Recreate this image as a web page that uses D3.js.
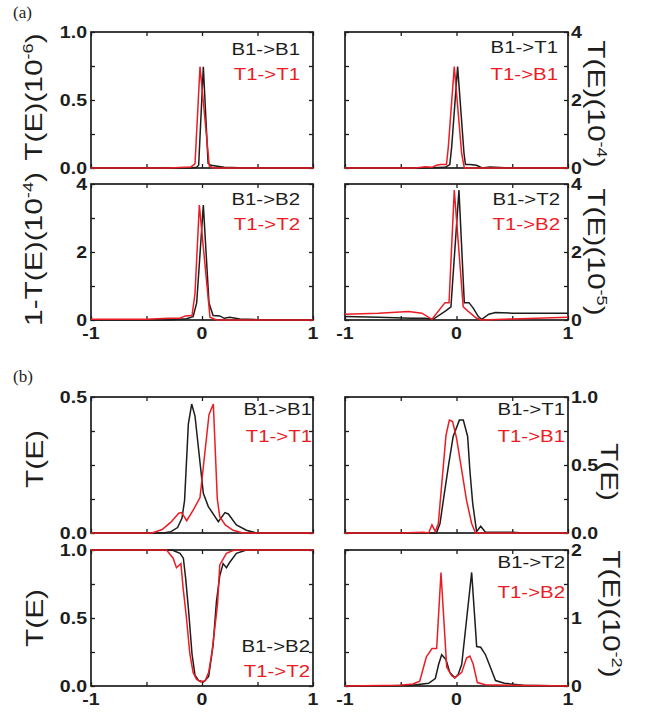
<!DOCTYPE html>
<html>
<head>
<meta charset="utf-8">
<script src="https://cdn.jsdelivr.net/npm/d3@7"></script>
<style>
  body { margin: 0; background: #fff; }
  svg { display: block; }
  text { font-family: "Liberation Sans", Arial, sans-serif; }
</style>
</head>
<body>
<div id="chart"></div>
<script>
// ---- data: [E, T] pairs ----
// (a) top left, T(E) in 1e-6
const a1Black = [[-1,0],[-0.4,0],[-0.1,0],[-0.05,0.005],[-0.03,0.02],[0.012,0.745],[0.055,0.035],[0.08,0.02],[0.2,0.005],[0.4,0],[1,0]];
const a1Red = [[-1,0],[-0.3,0],[-0.1,0.008],[-0.063,0.03],[-0.018,0.745],[0.066,0.015],[0.1,0],[1,0]];
// (a) top right, 1e-4
const a2Black = [[-1,0],[-0.3,0],[-0.1,0.02],[-0.06,0.1],[-0.043,0.63],[0.01,2.98],[0.067,0.44],[0.08,0.1],[0.12,0.1],[0.18,0.08],[0.23,0],[0.3,0.03],[0.5,0],[1,0]];
const a2Red = [[-1,0],[-0.45,0],[-0.37,0],[-0.28,0.04],[-0.22,0.02],[-0.18,0.08],[-0.14,0.1],[-0.09,0.1],[-0.073,0.63],[-0.02,2.98],[0.046,0.44],[0.07,0],[1,0]];
// (a) bottom left, 1-T in 1e-4
const a3Black = [[-1,0],[-0.3,0],[-0.14,0.04],[-0.08,0.1],[-0.048,0.5],[0.012,3.38],[0.063,0.5],[0.1,0.13],[0.16,0.12],[0.2,0.05],[0.25,0.08],[0.34,0.03],[0.5,0.01],[1,0]];
const a3Red = [[-1,0.02],[-0.5,0.02],[-0.3,0.05],[-0.2,0.05],[-0.15,0.12],[-0.09,0.13],[-0.063,0.78],[-0.024,3.38],[0.072,0.08],[0.13,0],[1,0]];
// (a) bottom right, 1e-5
const a4Black = [[-1,0.1],[-0.7,0.08],[-0.4,0.05],[-0.28,0.05],[-0.21,0.02],[-0.097,0.27],[-0.05,0.39],[0.022,3.82],[0.07,0.51],[0.112,0.51],[0.15,0.35],[0.196,0.1],[0.226,0.02],[0.29,0.17],[0.35,0.22],[0.5,0.2],[1,0.2]];
const a4Red = [[-1,0.17],[-0.7,0.2],[-0.43,0.25],[-0.31,0.2],[-0.22,0.02],[-0.103,0.51],[-0.067,0.51],[-0.02,3.82],[0.06,0.39],[0.1,0.27],[0.18,0.05],[0.23,0],[0.5,0.03],[1,0.08]];
// (b) top left
const b1Black = [[-1,0],[-0.35,0],[-0.28,0.005],[-0.22,0.02],[-0.18,0.055],[-0.157,0.12],[-0.123,0.4],[-0.093,0.474],[-0.063,0.43],[0.012,0.146],[0.057,0.097],[0.147,0.042],[0.207,0.075],[0.237,0.07],[0.31,0.03],[0.4,0.01],[0.49,0],[1,0]];
const b1Red = [[-1,0],[-0.45,0],[-0.36,0.013],[-0.28,0.04],[-0.21,0.073],[-0.183,0.075],[-0.138,0.045],[-0.078,0.085],[-0.018,0.13],[0.063,0.435],[0.102,0.474],[0.138,0.125],[0.16,0.06],[0.21,0.03],[0.28,0.01],[0.37,0],[1,0]];
// (b) top right
const b2Black = [[-1,0],[-0.3,0],[-0.18,0],[-0.148,0.07],[-0.118,0.24],[-0.073,0.49],[-0.03,0.71],[0.026,0.83],[0.061,0.83],[0.1,0.71],[0.12,0.46],[0.145,0.22],[0.18,0.01],[0.217,0.05],[0.26,0.005],[0.5,0.005],[0.6,0],[1,0]];
const b2Red = [[-1,0],[-0.5,0],[-0.3,0.005],[-0.25,0],[-0.22,0.06],[-0.19,0.01],[-0.163,0.07],[-0.094,0.72],[-0.064,0.83],[-0.035,0.82],[0,0.7],[0.047,0.46],[0.09,0.24],[0.136,0.07],[0.17,0],[1,0]];
// (b) bottom left
const b3Black = [[-1,1],[-0.27,1],[-0.198,0.976],[-0.168,0.94],[-0.147,0.79],[-0.12,0.546],[-0.09,0.235],[-0.063,0.08],[-0.03,0.04],[0.015,0.03],[0.06,0.07],[0.1,0.3],[0.13,0.62],[0.16,0.81],[0.19,0.9],[0.22,0.87],[0.25,0.91],[0.31,0.975],[0.4,1],[1,1]];
const b3Red = [[-1,1],[-0.32,1],[-0.26,0.94],[-0.23,0.87],[-0.19,0.9],[-0.17,0.72],[-0.14,0.5],[-0.11,0.24],[-0.08,0.1],[-0.05,0.05],[-0.01,0.03],[0.03,0.04],[0.06,0.1],[0.09,0.25],[0.14,0.6],[0.16,0.89],[0.22,0.975],[0.29,1],[1,1]];
// (b) bottom right, 1e-2
const b4Black = [[-1,0],[-0.6,0.005],[-0.4,0.01],[-0.25,0.04],[-0.19,0.11],[-0.16,0.32],[-0.133,0.46],[-0.095,0.39],[-0.06,0.2],[-0.015,0.12],[0.015,0.17],[0.047,0.32],[0.09,0.97],[0.136,1.67],[0.181,0.58],[0.217,0.57],[0.26,0.46],[0.31,0.25],[0.35,0.08],[0.43,0.04],[0.6,0.01],[1,0]];
const b4Red = [[-1,0],[-0.51,0.01],[-0.39,0.03],[-0.33,0.07],[-0.3,0.25],[-0.27,0.43],[-0.22,0.55],[-0.178,0.55],[-0.139,1.67],[-0.088,0.28],[-0.043,0.15],[-0.015,0.12],[0.047,0.2],[0.09,0.41],[0.12,0.44],[0.15,0.32],[0.187,0.05],[0.26,0.02],[0.5,0.01],[1,0]];

// tick labels
const xLabels = [-1, 0, 1];
const yLabelsUnit = [0, 0.5, 1];
const yLabelsHalf = [0, 0.5];
const yLabelsFour = [0, 2, 4];
const yLabelsTwo = [0, 1, 2];

// legends and axis titles
const legendA1 = ["B1->B1", "T1->T1"], legendA2 = ["B1->T1", "T1->B1"];
const legendA3 = ["B1->B2", "T1->T2"], legendA4 = ["B1->T2", "T1->B2"];
const titleA1 = ["T(E)(10", "-6", ")"], titleA2 = ["T(E)(10", "-4", ")"];
const titleA3 = ["1-T(E)(10", "-4", ")"], titleA4 = ["T(E)(10", "-5", ")"];
const titleB = ["T(E)"], titleB4 = ["T(E)(10", "-2", ")"];

const svg = d3.select("#chart").append("svg").attr("width", 651).attr("height", 714);
const ink = "#1d1d1b", red = "#ec1c24";

const cols = [[91, 313], [345, 568]];
const rows = [[32, 168], [184, 320], [397, 533], [550, 686]];

const panels = [
  {col: 0, row: 0, ymax: 1, fmt: ".1f", ylab: yLabelsUnit, black: a1Black, red: a1Red, legend: legendA1, legX: 300, legY: [55, 80], title: titleA1, tx: 42, ty: 97},
  {col: 1, row: 0, ymax: 4, fmt: "d", ylab: yLabelsFour, black: a2Black, red: a2Red, legend: legendA2, legX: 558, legY: [53, 80], title: titleA2, tx: 588, ty: 104},
  {col: 0, row: 1, ymax: 4, fmt: "d", ylab: yLabelsFour, black: a3Black, red: a3Red, legend: legendA3, legX: 300, legY: [205, 230], title: titleA3, tx: 42, ty: 249},
  {col: 1, row: 1, ymax: 4, fmt: "d", ylab: yLabelsFour, black: a4Black, red: a4Red, legend: legendA4, legX: 560, legY: [205, 230], title: titleA4, tx: 588, ty: 252},
  {col: 0, row: 2, ymax: 0.5, fmt: ".1f", ylab: yLabelsHalf, black: b1Black, red: b1Red, legend: legendA1, legX: 312, legY: [415, 442], title: titleB, tx: 43, ty: 459},
  {col: 1, row: 2, ymax: 1, fmt: ".1f", ylab: yLabelsUnit, black: b2Black, red: b2Red, legend: legendA2, legX: 565, legY: [415, 442], title: titleB, tx: 601, ty: 472},
  {col: 0, row: 3, ymax: 1, fmt: ".1f", ylab: yLabelsUnit, black: b3Black, red: b3Red, legend: legendA3, legX: 310, legY: [652, 677], title: titleB, tx: 43, ty: 618},
  {col: 1, row: 3, ymax: 2, fmt: "d", ylab: yLabelsTwo, black: b4Black, red: b4Red, legend: legendA4, legX: 565, legY: [568, 598], title: titleB4, tx: 603, ty: 614}
];

panels.forEach(p => {
  const [x0, x1] = cols[p.col], [y0, y1] = rows[p.row];
  const x = d3.scaleLinear().domain([-1, 1]).range([x0, x1]);
  const y = d3.scaleLinear().domain([0, p.ymax]).range([y1, y0]);
  const g = svg.append("g");

  g.append("rect")
    .attr("x", x0).attr("y", y0).attr("width", x1 - x0).attr("height", y1 - y0)
    .attr("fill", "none").attr("stroke", ink).attr("stroke-width", 1.7);

  // inward ticks on all four sides
  const xt = [-1, -0.5, 0, 0.5, 1], yt = d3.range(5).map(i => i * p.ymax / 4);
  const ticks = g.append("g");
  ticks.append("g").attr("transform", `translate(0,${y1})`).call(d3.axisBottom(x).tickValues(xt).tickSize(-4).tickFormat(""));
  ticks.append("g").attr("transform", `translate(0,${y0})`).call(d3.axisTop(x).tickValues(xt).tickSize(-4).tickFormat(""));
  ticks.append("g").attr("transform", `translate(${x0},0)`).call(d3.axisLeft(y).tickValues(yt).tickSize(-4).tickFormat(""));
  ticks.append("g").attr("transform", `translate(${x1},0)`).call(d3.axisRight(y).tickValues(yt).tickSize(-4).tickFormat(""));
  ticks.selectAll(".domain").remove();
  ticks.selectAll(".tick line").attr("stroke", ink).attr("stroke-width", 1.3);

  const line = d3.line().x(d => x(d[0])).y(d => y(d[1]));
  g.append("path").datum(p.black).attr("d", line).attr("fill", "none").attr("stroke", ink).attr("stroke-width", 1.5);
  g.append("path").datum(p.red).attr("d", line).attr("fill", "none").attr("stroke", red).attr("stroke-width", 1.5);

  // y tick labels
  const left = p.col === 0;
  g.selectAll(".ylab").data(p.ylab).join("text")
    .attr("transform", d => `translate(${left ? x0 - 4 : x1 + 3},${y(d)}) scale(1.15,1)`)
    .attr("text-anchor", left ? "end" : "start").attr("dy", "0.36em")
    .style("font-weight", "bold").style("font-size", "17px").attr("fill", ink)
    .text(d3.format(p.fmt));

  if (p.row === 1 || p.row === 3) {
    g.selectAll(".xlab").data(xLabels).join("text")
      .attr("transform", d => `translate(${x(d)},${y1 + 19}) scale(1.15,1)`)
      .attr("text-anchor", "middle")
      .style("font-weight", "bold").style("font-size", "17px").attr("fill", ink)
      .text(d => String(d));
  }

  g.selectAll(".leg").data(p.legend).join("text")
    .attr("transform", (d, i) => `translate(${p.legX},${p.legY[i]}) scale(1.2,1)`)
    .attr("text-anchor", "end").attr("fill", (d, i) => i ? red : ink)
    .style("font-size", "17px").text(d => d);

  const t = g.append("text")
    .attr("transform", `translate(${p.tx},${p.ty}) rotate(${left ? -90 : 90}) scale(1.3,1)`)
    .attr("text-anchor", "middle").style("font-size", "23px").attr("fill", ink);
  t.append("tspan").text(p.title[0]);
  if (p.title.length > 1) {
    t.append("tspan").attr("dy", -9).style("font-size", "14px").text(p.title[1]);
    t.append("tspan").attr("dy", 9).text(p.title[2]);
  }
});

svg.selectAll(".plabel").data(["(a)", "(b)"]).join("text")
  .attr("x", 13).attr("y", (d, i) => i ? 382 : 18)
  .style("font-family", "'Liberation Serif', 'Times New Roman', serif").style("font-size", "17px")
  .attr("fill", ink).text(d => d);
</script>
</body>
</html>
